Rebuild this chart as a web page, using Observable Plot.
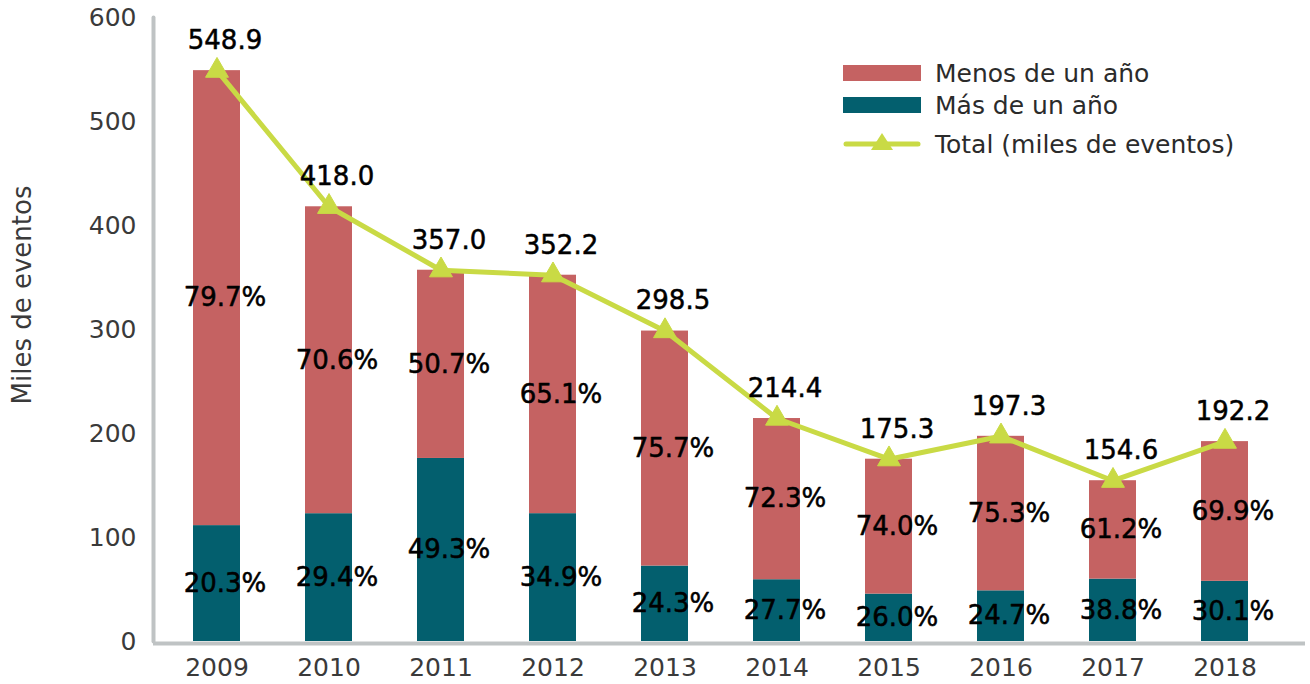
<!DOCTYPE html>
<html><head><meta charset="utf-8">
<script src="https://cdn.jsdelivr.net/npm/d3@7"></script>
<script src="https://cdn.jsdelivr.net/npm/@observablehq/plot@0.6"></script>
<style>
body{margin:0;background:#fff;font-family:"DejaVu Sans",sans-serif;}
#wrap{position:relative;width:1310px;height:684px;overflow:hidden;}
#ylab{position:absolute;left:22px;top:295px;transform:translate(-50%,-50%) rotate(-90deg);font-size:26px;color:#3a3a3a;white-space:nowrap;}
#legend{position:absolute;left:843px;top:57px;font-size:25px;color:#2b2b2b;}
#legend .row{display:flex;align-items:center;height:32px;}
#legend .row.l3{height:46px;}
#legend .sw{width:78px;height:16px;margin-right:14px;}
#legend svg{margin-right:14px;}
</style></head><body>
<div id="wrap"></div>
<script>
const years = ["2009","2010","2011","2012","2013","2014","2015","2016","2017","2018"];
const totals = [548.9,418.0,357.0,352.2,298.5,214.4,175.3,197.3,154.6,192.2];
const pctMenos = [79.7,70.6,50.7,65.1,75.7,72.3,74.0,75.3,61.2,69.9];
const pctMas = [20.3,29.4,49.3,34.9,24.3,27.7,26.0,24.7,38.8,30.1];
const series = ["Menos de un año","Más de un año"];
const lineName = "Total (miles de eventos)";
const yTicks = [0,100,200,300,400,500,600];

const colRed = "#c56262", colTeal = "#035f6e", colLine = "#c9da45", colAxis = "#bfc3c4";

const rows = [];
years.forEach((y,i)=>{
  const mas = totals[i]*pctMas[i]/100;
  rows.push({year:y, serie:series[1], value:mas, pct:pctMas[i]});
  rows.push({year:y, serie:series[0], value:totals[i]-mas, pct:pctMenos[i]});
});
const tot = years.map((y,i)=>({year:y, total:totals[i]}));
const order = [series[1], series[0]];

const plot = Plot.plot({
  width:1310, height:684,
  marginLeft:153, marginRight:5, marginTop:17, marginBottom:43,
  style:{fontFamily:"DejaVu Sans, sans-serif", background:"#fff", overflow:"visible"},
  x:{domain:years, paddingInner:0.583, paddingOuter:0.4, align:0.41},
  y:{domain:[0,600]},
  color:{domain:series, range:[colRed, colTeal]},
  marks:[
    Plot.ruleY([0],{stroke:colAxis, strokeWidth:4, dy:2}),
    Plot.frame({anchor:"left", stroke:colAxis, strokeWidth:4, strokeLinecap:"round"}),
    Plot.barY(rows,{x:"year", y:"value", fill:"serie", order}),
    Plot.text(rows, Plot.stackY({x:"year", y:"value", z:"serie", order, text:d=>d.pct.toFixed(1)+"%", fontSize:26, fill:"#000", stroke:"#000", strokeWidth:0.5, dx:8, style:{letterSpacing:"0.5px"}})),
    Plot.line(tot,{x:"year", y:"total", stroke:colLine, strokeWidth:5}),
    Plot.dot(tot,{x:"year", y:"total", symbol:"triangle", r:8.5, fill:colLine, stroke:colLine, strokeWidth:1}),
    Plot.text(tot,{x:"year", y:"total", text:d=>d.total.toFixed(1), dy:-30, dx:8, fontSize:26, fill:"#000", stroke:"#000", strokeWidth:0.5}),
    Plot.axisY({ticks:yTicks, tickSize:0, tickPadding:17, fontSize:25, color:"#3a3a3a", label:null}),
    Plot.axisX({tickSize:0, tickPadding:17, fontSize:25, color:"#3a3a3a", label:null})
  ]
});
const wrap = document.getElementById("wrap");
wrap.appendChild(plot);

const ylab = document.createElement("div");
ylab.id = "ylab"; ylab.textContent = "Miles de eventos";
wrap.appendChild(ylab);

const lg = document.createElement("div");
lg.id = "legend";
const colors = [colRed, colTeal];
series.forEach((s,i)=>{
  const r = document.createElement("div"); r.className="row";
  const sw = document.createElement("div"); sw.className="sw"; sw.style.background = colors[i];
  const t = document.createElement("span"); t.textContent = s;
  r.appendChild(sw); r.appendChild(t); lg.appendChild(r);
});
const r3 = document.createElement("div"); r3.className="row l3";
r3.innerHTML = `<svg width="78" height="30" viewBox="0 0 78 30"><line x1="3" y1="15" x2="75" y2="15" stroke="${colLine}" stroke-width="5" stroke-linecap="round"/><path d="M39,4 L50,21 L28,21 Z" fill="${colLine}"/></svg><span>${lineName}</span>`;
lg.appendChild(r3);
wrap.appendChild(lg);
</script>
</body></html>
